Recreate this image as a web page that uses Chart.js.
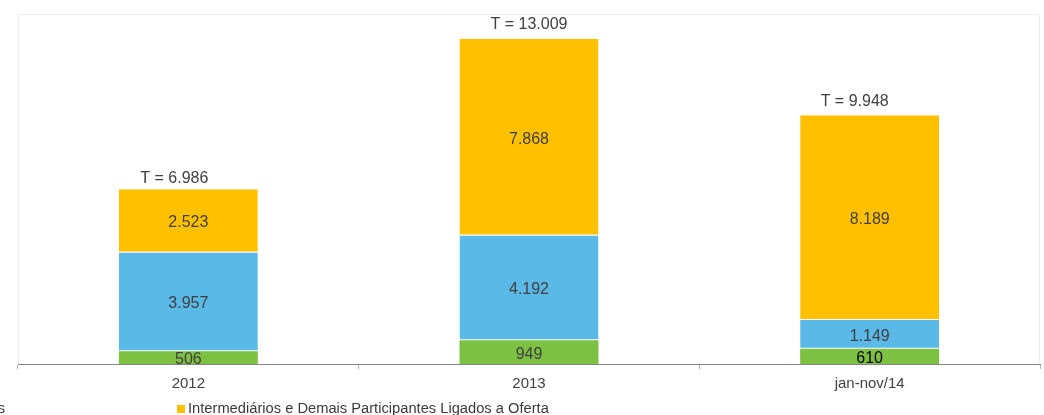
<!DOCTYPE html>
<html lang="pt-BR">
<head>
    <meta charset="UTF-8">
    <title>Investidores por Tipo</title>
    <script src="https://cdn.jsdelivr.net/npm/chart.js"></script>
    <style>
        html, body {
            margin: 0;
            padding: 0;
            background: #fff;
            overflow: hidden;
        }
        #wrap {
            position: relative;
            width: 1044px;
            height: 415px;
        }
        #legend {
            position: absolute;
            left: 0;
            top: 399px;
            width: 1044px;
            height: 18px;
            font: 14.7px Arial, "Liberation Sans", sans-serif;
            color: #3a3a3a;
            line-height: 18px;
            white-space: nowrap;
        }
        #legend .item i {
            display: inline-block;
            width: 8px;
            height: 8px;
            margin-right: 3px;
            vertical-align: 0px;
        }
        #legLeft {
            position: absolute;
            right: 1039px;
            top: 0;
        }
        #legLeft .item { margin-left: 30px; }
        #legRight {
            position: absolute;
            left: 177px;
            top: 0;
        }
    </style>
</head>
<body>
<div id="wrap">
    <canvas id="chart" width="1044" height="415"></canvas>
    <div id="legend"><div id="legLeft"></div><div id="legRight"></div></div>
</div>
<script>
    const categories = ['2012', '2013', 'jan-nov/14'];
    const seriesNames = ['Pessoas Físicas', 'Investidores Institucionais', 'Intermediários e Demais Participantes Ligados a Oferta'];
    const pessoasFisicas = [506, 949, 610];
    const institucionais = [3957, 4192, 1149];
    const intermediarios = [2523, 7868, 8189];
    const totals = [6986, 13009, 9948];
    const colors = ['#7DC142', '#5BB9E8', '#FFC000'];

    function fmt(n) {
        return String(n).replace(/\B(?=(\d{3})+(?!\d))/g, '.');
    }

    const FONT = 'Arial, "Liberation Sans", sans-serif';

    // gray frame around the plot area
    const framePlugin = {
        id: 'frame',
        beforeDatasetsDraw(chart) {
            const a = chart.chartArea, ctx = chart.ctx;
            ctx.save();
            ctx.strokeStyle = '#ebebeb';
            ctx.lineWidth = 1;
            ctx.beginPath();
            ctx.moveTo(a.left + 0.5, a.bottom);
            ctx.lineTo(a.left + 0.5, a.top + 0.5);
            ctx.lineTo(a.right - 0.5, a.top + 0.5);
            ctx.lineTo(a.right - 0.5, a.bottom);
            ctx.stroke();
            ctx.restore();
        }
    };

    // the "T = " boxes were placed by hand in the original, a bit off centre
    const totalShiftX = [-14, 0, -15];
    const totalShiftY = [-11, -14, -14];

    // values inside segments + totals on top
    const labelPlugin = {
        id: 'labels',
        afterDatasetsDraw(chart) {
            const ctx = chart.ctx;
            ctx.save();
            ctx.font = '16px ' + FONT;
            ctx.textAlign = 'center';
            ctx.textBaseline = 'middle';
            chart.data.datasets.forEach((ds, i) => {
                chart.getDatasetMeta(i).data.forEach((bar, j) => {
                    ctx.fillStyle = ds.valueColors ? ds.valueColors[j] : '#404040';
                    ctx.fillText(fmt(ds.data[j]), bar.x, (bar.y + bar.base) / 2 + 2);
                });
            });
            const last = chart.getDatasetMeta(chart.data.datasets.length - 1).data;
            ctx.fillStyle = '#404040';
            last.forEach((bar, j) => {
                ctx.fillText('T = ' + fmt(totals[j]), bar.x + totalShiftX[j], bar.y + totalShiftY[j]);
            });
            ctx.restore();
        }
    };

    const seriesData = [pessoasFisicas, institucionais, intermediarios];
    const datasets = seriesData.map((d, i) => ({
        label: seriesNames[i],
        data: d,
        backgroundColor: colors[i],
        borderColor: 'rgba(255,255,255,0.7)',
        borderWidth: i === 0 ? 0 : { bottom: 1 },
        borderSkipped: false,
        barPercentage: 0.408,
        categoryPercentage: 1.0
    }));
    datasets[0].valueColors = ['#404040', '#404040', '#000000'];

    new Chart(document.getElementById('chart'), {
        type: 'bar',
        data: { labels: categories, datasets: datasets },
        options: {
            responsive: false,
            animation: false,
            layout: { padding: { left: 18, right: 4, top: 14, bottom: 21 } },
            plugins: {
                legend: { display: false },
                tooltip: { enabled: false }
            },
            scales: {
                x: {
                    stacked: true,
                    grid: { display: true, drawOnChartArea: false, tickLength: 5, color: '#b5b5b5', offset: true },
                    border: { color: '#868686', width: 1 },
                    ticks: { color: '#404040', font: { size: 15, family: FONT }, padding: 6 },
                    afterFit(scale) { scale.height = 30; }
                },
                y: { stacked: true, display: false, min: 0, max: 14000 }
            }
        },
        plugins: [framePlugin, labelPlugin]
    });

    // legend: last entry at right, the others cut off at the left edge
    function legendItem(i) {
        return '<span class="item"><i style="background:' + colors[i] + '"></i>' + seriesNames[i] + '</span>';
    }
    document.getElementById('legLeft').innerHTML = legendItem(0) + legendItem(1);
    document.getElementById('legRight').innerHTML = legendItem(2);
</script>
</body>
</html>
